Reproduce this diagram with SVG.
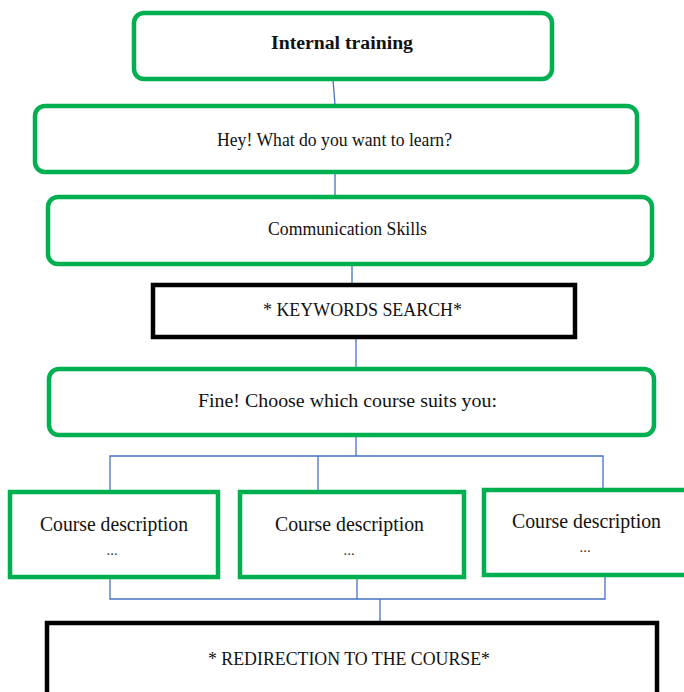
<svg xmlns="http://www.w3.org/2000/svg" width="684" height="692" viewBox="0 0 684 692">
<style>
.g{fill:#fff;stroke:#00B050;stroke-width:4.5}
.k{fill:#fff;stroke:#000;stroke-width:4.5}
.t{font-family:"Liberation Serif","Times New Roman",serif;font-size:18px;fill:#111;text-anchor:middle}
.c{font-family:"Liberation Serif","Times New Roman",serif;font-size:20px;fill:#111;text-anchor:middle}
.d{font-family:"Liberation Serif","Times New Roman",serif;font-size:15px;fill:#333;text-anchor:middle}
#connectors path{fill:none;stroke:#4472C4;stroke-width:1.3}
</style>
<rect width="684" height="692" fill="#fff"/>
<g id="connectors">
<path d="M333 80 L335 105"/>
<path d="M335 172 L335 196"/>
<path d="M352 265 L352 284"/>
<path d="M356 337 L356 368"/>
<path d="M356 436 L356 456"/>
<path d="M110 491 L110 456 L603 456 L603 489"/>
<path d="M318 456 L318 491"/>
<path d="M110 578 L110 599 L605 599 L605 577"/>
<path d="M357 578 L357 599"/>
<path d="M380 599 L380 622"/>
</g>
<g id="n1"><rect class="g" x="134" y="13" width="418" height="66" rx="10"/><text class="t" x="342" y="49" font-weight="bold" textLength="142" lengthAdjust="spacingAndGlyphs">Internal training</text></g>
<g id="n2"><rect class="g" x="35" y="106" width="602" height="66" rx="10"/><text class="t" x="334.5" y="146" textLength="235" lengthAdjust="spacingAndGlyphs">Hey! What do you want to learn?</text></g>
<g id="n3"><rect class="g" x="48" y="197" width="604" height="67" rx="10"/><text class="t" x="347.5" y="235" textLength="159" lengthAdjust="spacingAndGlyphs">Communication Skills</text></g>
<g id="n4"><rect class="k" x="153" y="285" width="422" height="52"/><text class="t" x="362.5" y="316" textLength="199" lengthAdjust="spacingAndGlyphs">* KEYWORDS SEARCH*</text></g>
<g id="n5"><rect class="g" x="49" y="369" width="605" height="66" rx="10"/><text class="t" x="347.5" y="407" textLength="299" lengthAdjust="spacingAndGlyphs">Fine! Choose which course suits you:</text></g>
<g id="n6"><rect class="g" x="10" y="492" width="208" height="85"/><text class="c" x="114" y="531" textLength="148" lengthAdjust="spacingAndGlyphs">Course description</text><text class="d" x="112" y="555">...</text></g>
<g id="n7"><rect class="g" x="240" y="492" width="224" height="85"/><text class="c" x="349.5" y="531" textLength="149" lengthAdjust="spacingAndGlyphs">Course description</text><text class="d" x="349" y="555">...</text></g>
<g id="n8"><rect class="g" x="484" y="490" width="210" height="85"/><text class="c" x="586.5" y="528" textLength="149" lengthAdjust="spacingAndGlyphs">Course description</text><text class="d" x="585" y="552">...</text></g>
<g id="n9"><rect class="k" x="47" y="623" width="610" height="72"/><text class="t" x="349" y="665" textLength="282" lengthAdjust="spacingAndGlyphs">* REDIRECTION TO THE COURSE*</text></g>
</svg>
